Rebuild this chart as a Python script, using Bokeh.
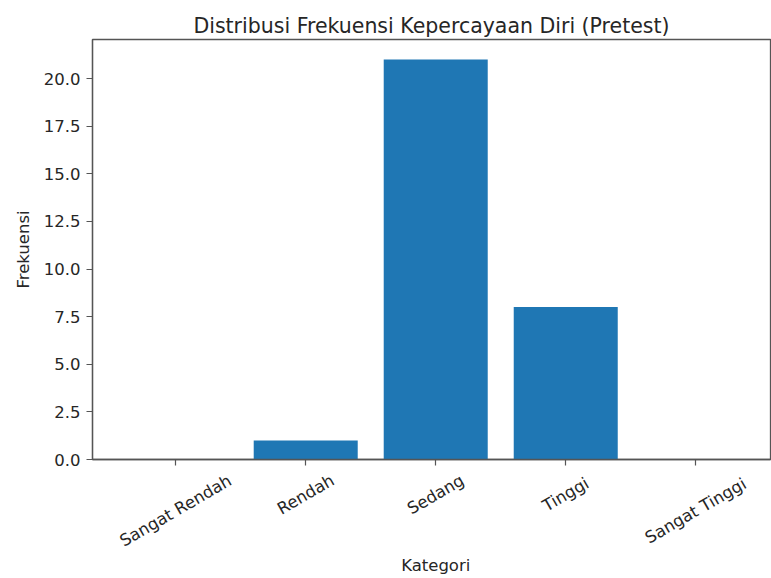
import math
from bokeh.plotting import figure
from bokeh.layouts import column
from bokeh.models import Range1d, FixedTicker, PrintfTickFormatter
from bokeh.embed import file_html
from bokeh.resources import INLINE
from bokeh.core.properties import value

# ---------------- data ----------------
categories = ["Sangat Rendah", "Rendah", "Sedang", "Tinggi", "Sangat Tinggi"]
frequencies = [0, 1, 21, 8, 0]
y_ticks = [0.0, 2.5, 5.0, 7.5, 10.0, 12.5, 15.0, 17.5, 20.0]
title_text = "Distribusi Frekuensi Kepercayaan Diri (Pretest)"
x_label = "Kategori"
y_label = "Frekuensi"

# ---------------- style ----------------
FONT = "DejaVu Sans"
TEXT = "#262626"
LINE = "#555555"
BAR = "#1f77b4"
FS = 16.5
ROT = math.radians(30)

W = 771
FRAME_BOTTOM = 459
TOP_H = 471          # main figure: frame + tick-mark area (room for "0.0")
BOT_H = 578 - TOP_H  # strip holding the rotated category labels

positions = list(range(len(categories)))
n = len(categories)
bar_w = 0.8
x_start = -bar_w / 2 - 0.05 * (n - 1 + bar_w)
x_end = 4.575          # right side of the frame is cut off in the reference
y_end = max(frequencies) * 1.05
x_range = Range1d(x_start, x_end)

p = figure(width=W, height=TOP_H, output_backend="svg", toolbar_location=None,
           x_range=x_range, y_range=Range1d(0, y_end),
           min_border_left=92, min_border_right=1, min_border_top=39,
           min_border_bottom=TOP_H - FRAME_BOTTOM)

p.vbar(x=positions, top=frequencies, width=bar_w, color=BAR, line_color=None)

p.title.text = title_text
p.title.align = "center"
p.title.text_font = FONT
p.title.text_font_size = "20.5px"
p.title.text_font_style = "normal"
p.title.text_color = TEXT
p.title.standoff = 3

p.grid.visible = False
p.outline_line_color = LINE
p.outline_line_width = 1.3
p.background_fill_color = "white"
p.border_fill_color = "white"

p.yaxis.ticker = FixedTicker(ticks=y_ticks)
p.yaxis.formatter = PrintfTickFormatter(format="%.1f")
p.yaxis.axis_label = y_label
for ax in (p.xaxis[0], p.yaxis[0]):
    ax.axis_line_color = LINE
    ax.axis_line_width = 1.3
    ax.major_tick_line_color = LINE
    ax.major_tick_line_width = 1.2
    ax.major_tick_out = 6
    ax.major_tick_in = 0
    ax.minor_tick_line_color = None
    ax.major_label_text_font = FONT
    ax.major_label_text_font_size = f"{FS}px"
    ax.major_label_text_color = TEXT
    ax.axis_label_text_font = FONT
    ax.axis_label_text_font_size = f"{FS}px"
    ax.axis_label_text_font_style = "normal"
    ax.axis_label_text_color = TEXT
p.yaxis.major_label_standoff = 6
p.yaxis.axis_label_standoff = 8

# x axis: tick marks only; labels go in the strip below (centred like matplotlib)
p.xaxis.ticker = FixedTicker(ticks=positions)
p.xaxis.major_label_overrides = {i: "" for i in positions}
p.xaxis.major_label_text_font_size = "0px"
p.xaxis.major_label_standoff = 0

# ---------------- label strip ----------------
q = figure(width=W, height=BOT_H, output_backend="svg", toolbar_location=None,
           x_range=x_range, y_range=Range1d(-BOT_H, 0),
           min_border_left=92, min_border_right=1, min_border_top=0,
           min_border_bottom=0)
q.axis.visible = False
q.grid.visible = False
q.outline_line_color = None
q.background_fill_color = "white"
q.border_fill_color = "white"

# y positions in the strip (pixels below its top edge), from the rotated
# label box: top of box sits just under the strip's top, box centred on tick
gap = FRAME_BOTTOM + 13 - TOP_H
h_line = FS * 1.15
label_y = []
for c in categories:
    w = len(c) * 0.56 * FS
    label_y.append(-(gap + (w * math.sin(ROT) + h_line * math.cos(ROT)) / 2))

q.text(x=positions, y=label_y, text=categories, angle=ROT,
       text_align="center", text_baseline="middle",
       text_font=value(FONT), text_font_size=value(f"{FS}px"), text_color=TEXT)

x_mid = (positions[0] + positions[-1]) / 2
q.text(x=[x_mid], y=[-(565 - TOP_H)], text=[x_label],
       text_align="center", text_baseline="middle",
       text_font=value(FONT), text_font_size=value(f"{FS}px"), text_color=TEXT)

layout = column(p, q, spacing=0)
open("out.html", "w").write(file_html(layout, INLINE))
